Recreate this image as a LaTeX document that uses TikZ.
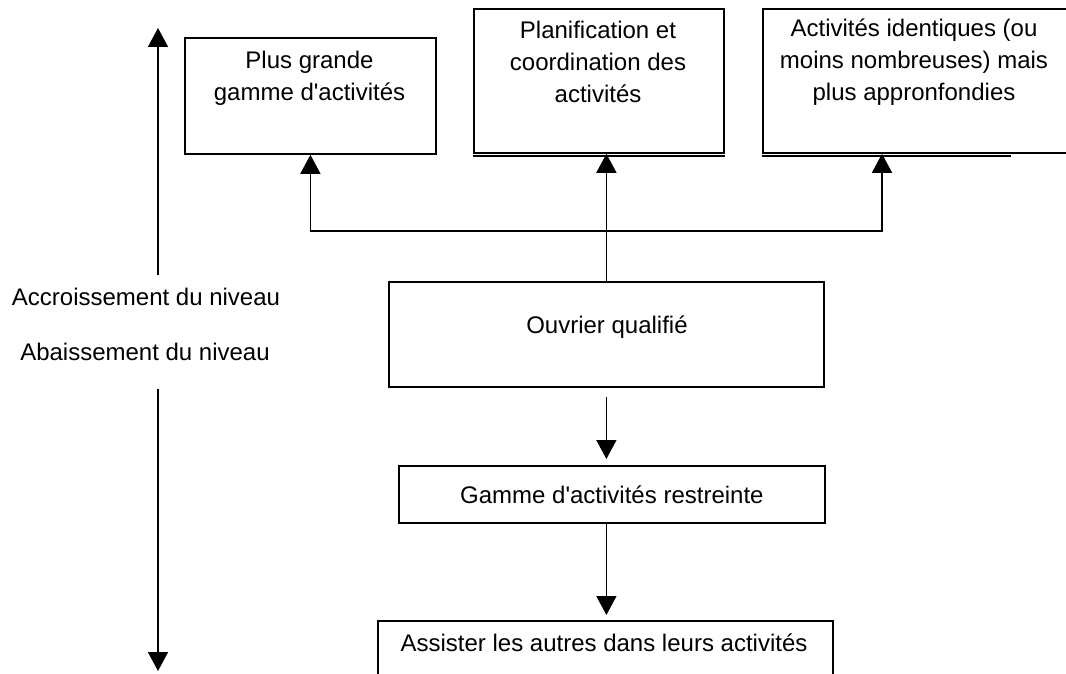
\documentclass[tikz,border=0pt]{standalone}
\usepackage{fontspec}
\setmainfont{Liberation Sans}
\usetikzlibrary{arrows.meta,positioning,calc}

\tikzset{
  boite/.style={draw, line width=1.8pt, inner sep=0pt, anchor=north west},
  texte/.style={font=\fontsize{24}{32}\selectfont, align=center, inner sep=0pt},
  fleche/.style={line width=1.5pt, -{Triangle[length=19pt,width=20pt]}},
  trait/.style={line width=1.5pt},
  ombre/.style={line width=2.5pt},
}

\begin{document}
\begin{tikzpicture}[x=1pt,y=-1pt]
  \useasboundingbox (0,0) rectangle (1066,674);
  % les trois boites du haut
  \node[boite, minimum width=251pt, minimum height=116pt] (grande) at (184,37) {};
  \node[boite, minimum width=250pt, minimum height=144pt] (plan) at (473,8) {};
  \node[boite, minimum width=340pt, minimum height=144pt] (approf) at (762,8) {};
  \node[texte] (tgrande) at (309.5,78.5) {Plus grande\\gamme d\textquotesingle activit\'es};
  \node[texte] (tplan) at (598,62) {Planification et\\coordination des\\activit\'es};
  \node[texte] (tapprof) at (914,62) {Activit\'es identiques (ou\\moins nombreuses) mais\\plus appronfondies};
  \draw[ombre] ([yshift=-2pt]plan.south west) -- ([yshift=-2pt]plan.south east);
  \draw[ombre] ([yshift=-2pt]approf.south west) -- ([xshift=249pt,yshift=-2pt]approf.south west);
  % le centre et le bas
  \node[boite, minimum width=435pt, minimum height=105pt] (ouvrier) at (388,281) {};
  \node[texte] (touvrier) at (607,327) {Ouvrier qualifi\'e};
  \node[boite, minimum width=426pt, minimum height=57pt, texte] (gamme) at (398,465) {Gamme d\textquotesingle activit\'es restreinte};
  \node[boite, minimum width=455pt, minimum height=80pt] (assist) at (377,620) {};
  \node[texte] (tassist) at (604,643) {Assister les autres dans leurs activit\'es};
  % connecteurs
  \coordinate (noeud) at (ouvrier.north |- 0,231);
  \draw[trait] (ouvrier.north) -- (noeud);
  \draw[fleche] (noeud) -| (grande.south);
  \draw[fleche] (noeud) -- (noeud |- plan.south);
  \draw[fleche] (noeud) -| ([xshift=120pt]approf.south west);
  \draw[fleche, shorten <=9pt, shorten >=6pt] (ouvrier.south) -- (ouvrier.south |- gamme.north);
  \draw[fleche, shorten >=5pt] (ouvrier.south |- gamme.south) -- (ouvrier.south |- assist.north);
  % axe du niveau
  \node[texte] (accr) at (146,297) {Accroissement du niveau};
  \node[texte] (abais) at (145,352) {Abaissement du niveau};
  \coordinate (axeH) at (158,28);
  \coordinate (axeM1) at (158,275);
  \coordinate (axeM2) at (158,389);
  \coordinate (axeB) at (158,671);
  \draw[fleche] (axeM1) -- (axeH);
  \draw[fleche] (axeM2) -- (axeB);
\end{tikzpicture}
\end{document}
